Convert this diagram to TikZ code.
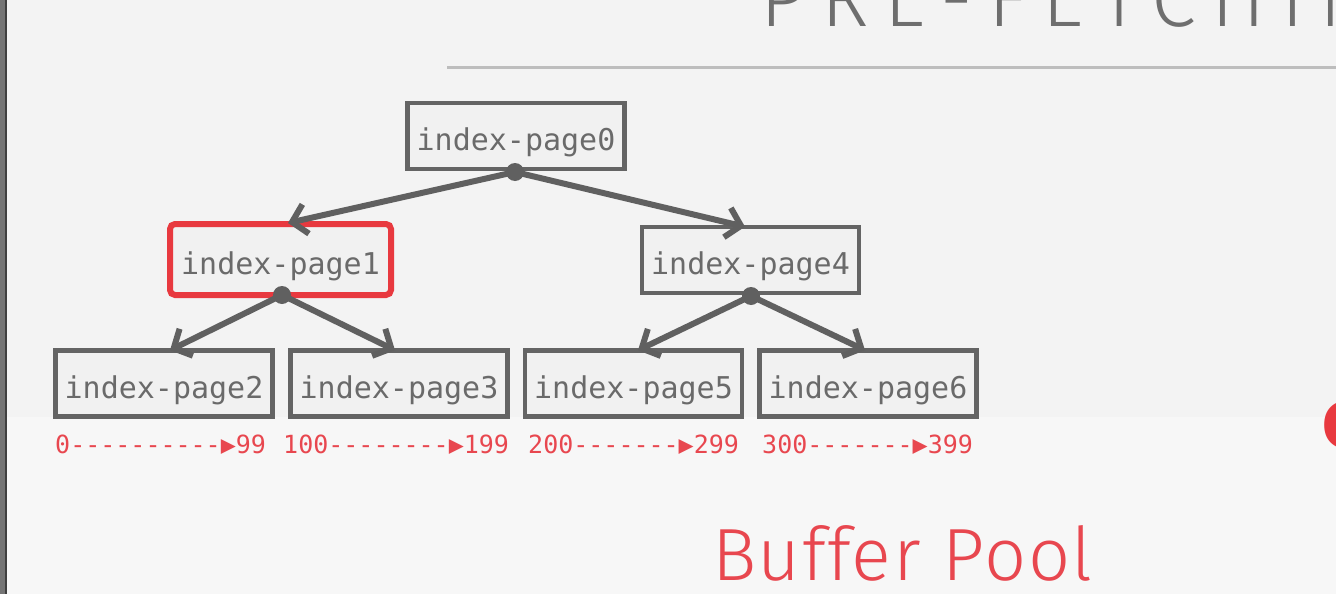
\documentclass[tikz,border=0pt]{standalone}
\usepackage{fontspec}
\usetikzlibrary{arrows.meta}
\newfontfamily\monof{DejaVu Sans Mono}
\newfontfamily\thinf{Fira Sans Light}
\newfontfamily\boldf{DejaVu Sans Bold}
\definecolor{bgA}{HTML}{F3F3F3}
\definecolor{bgB}{HTML}{F7F7F7}
\definecolor{boxc}{HTML}{646464}
\definecolor{boxfill}{HTML}{F1F1F1}
\definecolor{txtc}{HTML}{6A6A6A}
\definecolor{arrc}{HTML}{606060}
\definecolor{redc}{HTML}{E8393F}
\definecolor{redt}{HTML}{E8474F}
\definecolor{rulec}{HTML}{BDBDBD}
\definecolor{titlec}{HTML}{6E6E6E}
\definecolor{edgeA}{HTML}{757575}
\definecolor{edgeB}{HTML}{404040}
\tikzset{
  pagebox/.style={draw=boxc, line width=4.5pt, fill=boxfill, rectangle,
    minimum width=217pt, minimum height=66pt, inner sep=0pt,
    text height=29pt, text depth=0pt,
    text=txtc, font=\monof\fontsize{30}{36}\selectfont},
  redbox/.style={pagebox, draw=redc, line width=6pt, rounded corners=5pt,
    minimum width=221pt, minimum height=71pt},
  dotn/.style={circle, fill=arrc, minimum size=18pt, inner sep=0pt},
  arr/.style={draw=arrc, line width=6pt,
    -{Straight Barb[length=14pt, width=30pt, line width=6pt]}},
  rangelbl/.style={anchor=base west, inner sep=0pt, text=redt,
    font=\monof\fontsize{25}{30}\selectfont},
}
\begin{document}
\begin{tikzpicture}[x=1pt, y=-1pt]
\useasboundingbox (0,0) rectangle (1336,613);
\clip (0,0) rectangle (1336,613);
% background
\fill[bgA] (0,0) rectangle (1336,417);
\fill[bgB] (0,417) rectangle (1336,594);
\fill[white] (0,594) rectangle (1336,613);
\fill[edgeA] (0,0) rectangle (6,594);
\fill[edgeB] (5,0) rectangle (7,594);
% title and rule
\node[anchor=base west, inner sep=0pt, text=titlec,
  font=\thinf\fontsize{81}{90}\selectfont\addfontfeature{LetterSpace=19}]
  (title) at (760,27) {PRE-FETCHIN};
\draw[rulec, line width=3pt] (447,67) -- (1336,67);
% boxes
\node[pagebox] (p0) at (516,136) {index-page0};
\node[redbox]  (p1) at (280.5,259.5) {index-page1};
\node[pagebox] (p4) at (750.5,260) {index-page4};
\node[pagebox] (p2) at (164,383.5) {index-page2};
\node[pagebox] (p3) at (399,383.5) {index-page3};
\node[pagebox] (p5) at (633.5,383.5) {index-page5};
\node[pagebox] (p6) at (868,383.5) {index-page6};
% dots
\node[dotn] (d0) at (515,172) {};
\node[dotn] (d1) at (282,295) {};
\node[dotn] (d4) at (751,296) {};
% arrows
\draw[arr] (d0.center) -- ([xshift=7.5pt,yshift=-2pt]p1.north);
\draw[arr] (d0.center) -- ([xshift=-5.5pt,yshift=-2pt]p4.north);
\draw[arr] (d1.center) -- ([xshift=6pt,yshift=-2pt]p2.north);
\draw[arr] (d1.center) -- ([xshift=-4pt,yshift=-2pt]p3.north);
\draw[arr] (d4.center) -- ([xshift=4.5pt,yshift=-2pt]p5.north);
\draw[arr] (d4.center) -- ([xshift=-3pt,yshift=-2pt]p6.north);
% ranges
\node[rangelbl] (r2) at (55,453) {0----------▶99};
\node[rangelbl] (r3) at (283,453) {100--------▶199};
\node[rangelbl] (r5) at (528,453) {200-------▶299};
\node[rangelbl] (r6) at (762,453) {300-------▶399};
% buffer pool
\node[anchor=base west, inner sep=0pt, text=redt,
  font=\thinf\fontsize{74}{80}\selectfont\addfontfeature{LetterSpace=2}] (bp) at (712,580) {Buffer Pool};
% partial red glyph at right edge
\node[anchor=base west, inner sep=0pt, text=redc,
  font=\boldf\fontsize{64}{70}\selectfont] (o) at (1321,448) {O};
\end{tikzpicture}
\end{document}
